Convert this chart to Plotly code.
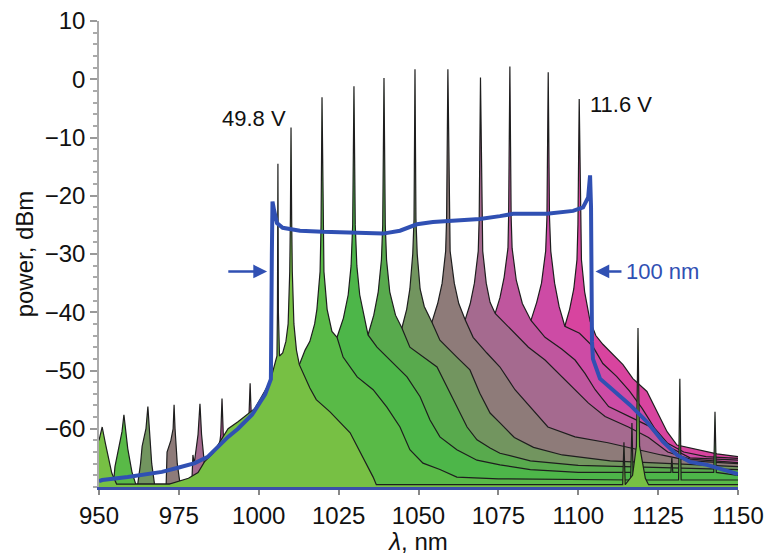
import plotly.graph_objects as go

# ---------------- data (wavelength nm, power dBm) -------------
a_nm = [950, 951, 952, 952.8, 954, 955.5, 972, 978, 981, 983, 985.7, 987.2, 990.4, 993.5, 998.8,
        1003.5, 1005, 1005.7, 1005.85, 1006.0, 1006.15, 1006.5, 1007.5, 1008.5, 1009.2, 1009.7,
        1009.9, 1010.1, 1010.3, 1010.5, 1011.0, 1011.8, 1012.7, 1016, 1018, 1022.3, 1028.6, 1032.6,
        1035.8, 1036.8, 1113.9, 1114.3, 1114.7, 1117, 1118.2, 1118.5, 1118.7, 1118.9, 1119.2, 1121,
        1122, 1150]
a_db = [-62, -59.7, -62.5, -64.8, -67.6, -69.5, -69.5, -68.5, -67.5, -65.7, -64.2, -62.8, -60, -58.8,
        -56.5, -52, -49, -47.5, -40, -14.5, -40, -47.5, -47, -45, -42, -33, -24, -8.3, -24, -33, -42,
        -46.5, -49, -53, -55, -57.1, -60.7, -64.8, -68.3, -69.6, -69.6, -62.3, -69.6, -68, -63, -52,
        -42.7, -52, -63, -68.5, -69.6, -69.6]

b_nm = [950, 954.5, 955, 956, 957.2, 957.8, 958.4, 959, 960.3, 961.5, 1003, 1008, 1011, 1012.7,
        1014.5, 1016, 1017.5, 1018.2, 1019.2, 1019.5, 1019.8, 1020.1, 1020.4, 1021.4, 1022.9, 1024.5,
        1026.4, 1030.8, 1035.8, 1040.1, 1044.2, 1047.3, 1051.4, 1056.7, 1062, 1075, 1116.4, 1116.8,
        1117.2, 1131.4, 1131.8, 1132.2, 1150]
b_db = [-70, -69.5, -66.5, -64, -60.5, -57.6, -61, -63.4, -67.4, -69.5, -69.5, -62, -53, -49, -46.5,
        -45, -42, -39.5, -33, -25, -3.1, -25, -33, -39.5, -43.3, -44.3, -47.7, -51.1, -53.3, -56.3,
        -59.7, -63.6, -65.9, -67, -68.3, -68.6, -68.8, -59, -68.8, -68.8, -51.4, -68.8, -68.8]

c_nm = [1016, 1019, 1021.5, 1023, 1024.5, 1026.5, 1028, 1028.9, 1029.4, 1029.8, 1030.2, 1030.7,
        1031.6, 1033, 1034.2, 1037, 1041, 1046.4, 1050.5, 1053.6, 1056.7, 1062, 1068.3, 1075.5, 1085,
        1100, 1129, 1129.3, 1129.6, 1142.4, 1142.8, 1143.2, 1150]
c_db = [-70, -60, -52, -46.5, -44.3, -41, -37, -32, -25, -1.2, -25, -32, -37, -41, -43.9, -46, -48.2,
        -51.1, -54.5, -58.5, -61.4, -63.6, -65.4, -66.2, -67, -67.5, -67.5, -65, -67.5, -67.5, -57.1,
        -67.5, -68]

d_nm = [1028, 1031, 1033, 1034.2, 1036, 1037.4, 1038.4, 1038.8, 1039.2, 1039.6, 1040, 1041, 1042.8,
        1044.8, 1047.3, 1051.4, 1055.8, 1058.9, 1062, 1065.2, 1068.3, 1072.4, 1075.5, 1085, 1100, 1150]
d_db = [-70, -60, -49, -43.9, -40.5, -36.5, -31, -25, 0.2, -25, -31, -36.5, -40.5, -42.7, -46, -47.7,
        -49.4, -52.8, -56.3, -59.7, -61.9, -63.3, -64.2, -65.5, -66.3, -67]

e_nm = [962, 963, 963.5, 964.7, 965.3, 965.8, 966.5, 967.5, 1038, 1041, 1043, 1044.8, 1046.3, 1047.3,
        1048.2, 1048.6, 1048.9, 1049.2, 1049.6, 1050.5, 1051.8, 1054.2, 1056.7, 1062, 1066.1, 1069.2,
        1072.4, 1075.5, 1080, 1086, 1095, 1110, 1150]
e_db = [-70, -66, -63, -60, -56.2, -60, -66, -70, -70, -60, -48.5, -42.7, -39.5, -36, -30, -24, 1.7,
        -24, -30, -36, -39, -41.7, -44.8, -47.7, -49.9, -53.9, -57.3, -59, -61.5, -63.2, -64.5, -65.5,
        -66.5]

f_nm = [971, 971.3, 972.5, 973.2, 973.5, 973.8, 974.5, 975.5, 1048, 1051, 1053, 1054.2, 1056, 1057.4,
        1058.5, 1058.8, 1059.2, 1059.6, 1059.9, 1061.2, 1062.6, 1064.6, 1067.1, 1071.4, 1075.5,
        1080.2, 1086.5, 1090.5, 1099, 1109.3, 1126, 1135, 1150]
f_db = [-70, -64, -62, -60, -55.9, -60, -66, -70, -70, -60, -47, -41.7, -38.5, -35, -29.5, -23.7, 1.7,
        -23.7, -29.5, -35, -38.5, -41.3, -44.3, -47, -49.4, -53.3, -57.3, -59.7, -61.4, -62.4, -64.5,
        -65.5, -66]

g_nm = [979, 979.4, 979.8, 981, 981.6, 982.1, 983, 984, 1058, 1061, 1063, 1064.6, 1066.2, 1067.5,
        1068.7, 1069.0, 1069.4, 1069.8, 1070.1, 1071.2, 1072.4, 1074, 1080.2, 1084.4, 1089.6, 1094.8,
        1099, 1103.2, 1108.4, 1115.7, 1122, 1128, 1135, 1150]
g_db = [-70, -64.5, -66, -61, -55.7, -61, -66, -70, -70, -60, -47, -41.3, -38.5, -35, -29.5, -23.7,
        0.3, -23.7, -29.5, -35, -38.3, -40.2, -43.6, -46, -48.2, -51.1, -53.3, -55.6, -57.9, -59.7,
        -61.5, -64, -65.2, -65.8]

h_nm = [986.5, 987, 988.1, 988.5, 988.9, 990, 990.5, 1067, 1070, 1072.5, 1074, 1075.5, 1076.8,
        1078.0, 1078.2, 1078.6, 1079.0, 1079.3, 1080.6, 1082.5, 1085.2, 1089.6, 1094.8, 1099, 1102.1,
        1105.3, 1109.5, 1115.7, 1122, 1128, 1135, 1150]
h_db = [-70, -66, -61, -54.8, -61, -66, -70, -70, -60, -46, -40.2, -37.5, -34, -29, -23.7, 2.2, -23.7,
        -29, -34.5, -38.5, -41.4, -44.3, -46.3, -48.2, -50.5, -53.3, -56.2, -57.9, -59.5, -63, -65,
        -65.4]

i_nm = [995.5, 996.8, 997.3, 997.8, 999, 1078, 1081, 1083.5, 1085.2, 1087, 1088.5, 1089.8, 1090.2,
        1090.6, 1091, 1091.4, 1092.6, 1094, 1095.8, 1100.4, 1104.6, 1107.7, 1112, 1116, 1120, 1124,
        1128, 1133, 1140, 1150]
i_db = [-70, -60, -52.2, -60, -70, -70, -60, -47, -41.4, -38.3, -35, -29.5, -23.7, 1.2, -23.7, -29.5,
        -35, -39, -42.4, -43.6, -45.9, -48.8, -51, -53.5, -56.5, -60, -62.5, -64, -64.8, -65.1]

j_nm = [1089, 1092, 1094.5, 1095.8, 1097.3, 1098.6, 1099.6, 1099.9, 1100.3, 1100.7, 1101.0, 1102,
        1103.7, 1105.5, 1107.7, 1114, 1117.1, 1121.5, 1124.6, 1127.8, 1130.9, 1137.2, 1143.4, 1150]
j_db = [-70, -60, -47, -42.4, -39.5, -36, -31, -25, -3.4, -25, -31, -36.5, -41.5, -44, -45.5, -49,
        -51.4, -53.6, -57, -60.5, -62.8, -63.6, -64.3, -64.8]

# broadband (100 nm) spectrum
blue_nm = [950, 951, 959, 969.7, 974.7, 980, 984.1, 987.2, 990.4, 993.5, 997.9, 1002, 1003.8, 1004.1,
           1004.3, 1004.8, 1005.7, 1007.5, 1012.9, 1020, 1029.5, 1038.9, 1044.2, 1049.5, 1054.5,
           1065.2, 1069.2, 1075.5, 1079.6, 1090.2, 1098.4, 1101.5, 1103.1, 1103.7, 1104.0, 1104.3,
           1104.6, 1106.8, 1110.9, 1116.2, 1121.5, 1126.5, 1130.9, 1135, 1140.3, 1145.3, 1150]
blue_db = [-69, -68.8, -68.3, -67.4, -66.7, -65.9, -64.8, -63.1, -61.4, -60, -57.6, -54.1, -51.5, -30,
           -21, -22.5, -24.7, -25.5, -26, -26.2, -26.4, -26.5, -26, -24.9, -24.5, -24.2, -24, -23.5,
           -23.1, -23.1, -22.6, -22, -20.3, -16.5, -22, -45, -48, -51.4, -53.3, -55.9, -58.8, -62.2,
           -64.5, -65.7, -66.2, -67.1, -67.8]

x_ticks = [950, 975, 1000, 1025, 1050, 1075, 1100, 1125, 1150]
y_ticks = [-60, -50, -40, -30, -20, -10, 0, 10]
voltage_labels = ["49.8 V", "11.6 V"]

# styles
spectra = [  # back (right, magenta) to front (left, green)
    (j_nm, j_db, "#d8449f"),
    (i_nm, i_db, "#cd4ba5"),
    (h_nm, h_db, "#bf569e"),
    (g_nm, g_db, "#a56a8f"),
    (f_nm, f_db, "#8e7b79"),
    (e_nm, e_db, "#72955f"),
    (d_nm, d_db, "#58aa4d"),
    (c_nm, c_db, "#4db649"),
    (b_nm, b_db, "#59ba47"),
    (a_nm, a_db, "#77c044"),
]
for xs, ys, _ in spectra:
    assert len(xs) == len(ys)
assert len(blue_nm) == len(blue_db)

FLOOR = -71
BLUE = "#3050b3"
FONT = "Liberation Sans, Arial, Helvetica, sans-serif"

fig = go.Figure()
for xs, ys, col in spectra:
    fig.add_trace(go.Scatter(
        x=list(xs) + [xs[-1], xs[0]], y=list(ys) + [FLOOR, FLOOR],
        mode="lines", fill="toself", fillcolor=col, line=dict(width=0),
        hoverinfo="skip", showlegend=False))
    fig.add_trace(go.Scatter(
        x=xs, y=ys, mode="lines", line=dict(color="#1e1e1e", width=1.2),
        hoverinfo="skip", showlegend=False))

fig.add_trace(go.Scatter(x=blue_nm, y=blue_db, mode="lines",
                         line=dict(color=BLUE, width=4), showlegend=False))

fig.add_annotation(x=998.5, y=-6.7, text=voltage_labels[0], showarrow=False,
                   font=dict(size=22, color="#111"))
fig.add_annotation(x=1103.2, y=-4.3, text=voltage_labels[1], showarrow=False, xanchor="left",
                   font=dict(size=22, color="#111"))
fig.add_annotation(x=1002.6, y=-33, ax=990, ay=-33, axref="x", ayref="y", text="",
                   showarrow=True, arrowhead=2, arrowsize=1.1, arrowwidth=2.5, arrowcolor=BLUE)
fig.add_annotation(x=1105.4, y=-33, ax=1114, ay=-33, axref="x", ayref="y", text="",
                   showarrow=True, arrowhead=2, arrowsize=1.1, arrowwidth=2.5, arrowcolor=BLUE)
fig.add_annotation(x=1114.3, y=-33, text="100 nm", showarrow=False, xanchor="left",
                   font=dict(size=22, color=BLUE))

fig.update_layout(
    width=768, height=555,
    margin=dict(l=99, r=30, t=21, b=68),
    plot_bgcolor="white", paper_bgcolor="white",
    font=dict(family=FONT, size=24, color="#111"),
    showlegend=False,
)
fig.update_xaxes(
    range=[950, 1150], tickvals=x_ticks, ticks="outside", ticklen=5, tickcolor="#888",
    tickwidth=1.5, showline=True, linecolor="#3a50aa", linewidth=2.5, showgrid=False,
    zeroline=False, automargin=False,
    title=dict(text="<i>λ</i>, nm", standoff=2, font=dict(size=24)),
)
fig.update_yaxes(
    range=[-70, 10], tickvals=y_ticks, ticks="outside", ticklen=7, tickcolor="#999",
    tickwidth=1.5, showline=True, linecolor="#aaa", linewidth=1.5, showgrid=False,
    zeroline=False, automargin=False,
    minor=dict(dtick=2, ticks="outside", ticklen=4, tickcolor="#aaa"),
    title=dict(text="power, dBm", standoff=4, font=dict(size=24)),
)

fig.write_html("out.html", config={"displayModeBar": False},
               post_script="document.body.style.margin='0px';")
